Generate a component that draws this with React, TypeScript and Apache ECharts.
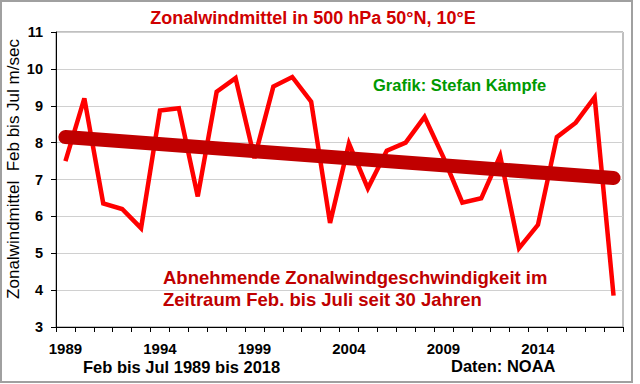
import React, { useEffect, useRef } from "react";
import * as echarts from "echarts";

const years = [
  "1989", "1990", "1991", "1992", "1993", "1994", "1995", "1996", "1997", "1998",
  "1999", "2000", "2001", "2002", "2003", "2004", "2005", "2006", "2007", "2008",
  "2009", "2010", "2011", "2012", "2013", "2014", "2015", "2016", "2017", "2018",
];
const zonalWind = [
  7.5, 9.2, 6.35, 6.2, 5.68, 8.87, 8.93, 6.54, 9.38, 9.75,
  7.58, 9.52, 9.78, 9.11, 5.82, 7.98, 6.76, 7.78, 8.0, 8.7,
  7.6, 6.37, 6.49, 7.64, 5.14, 5.77, 8.15, 8.54, 9.23, 3.85,
];
const trendStart = 8.15;
const trendEnd = 7.04;

const titleText = "Zonalwindmittel in 500 hPa 50°N, 10°E";
const yAxisName = "Zonalwindmittel  Feb bis Jul m/sec";
const creditText = "Grafik: Stefan Kämpfe";
const noteLines = [
  "Abnehmende Zonalwindgeschwindigkeit im",
  "Zeitraum Feb. bis Juli seit 30 Jahren",
];
const xCaption = "Feb bis Jul 1989 bis 2018";
const sourceText = "Daten: NOAA";

const FONT = "'Liberation Sans', Arial, sans-serif";

export default function App() {
  const ref = useRef<HTMLDivElement>(null);
  useEffect(() => {
    if (!ref.current) return;
    const chart = echarts.init(ref.current, null, { renderer: "svg" });
    chart.setOption({
      animation: false,
      backgroundColor: "#ffffff",
      textStyle: { fontFamily: FONT },
      grid: {
        left: 56,
        right: 17,
        top: 32,
        bottom: 57,
        show: true,
        borderColor: "#808080",
        borderWidth: 1,
      },
      xAxis: {
        type: "category",
        data: years,
        boundaryGap: true,
        axisLine: { lineStyle: { color: "#000", width: 1 } },
        axisTick: { show: true, interval: 0, length: 5, lineStyle: { color: "#000" } },
        axisLabel: {
          interval: 4,
          color: "#000",
          fontWeight: "bold",
          fontSize: 15,
          fontFamily: FONT,
          margin: 14,
        },
        splitLine: { show: false },
      },
      yAxis: {
        type: "value",
        min: 3,
        max: 11,
        interval: 1,
        axisLine: { show: true, lineStyle: { color: "#000", width: 1 } },
        axisTick: { show: true, length: 5, lineStyle: { color: "#000" } },
        axisLabel: { color: "#000", fontWeight: "bold", fontSize: 14.5, fontFamily: FONT, margin: 13 },
        splitLine: { show: true, lineStyle: { color: "#d0d0d0", width: 1 } },
      },
      series: [
        {
          type: "line",
          data: zonalWind,
          symbol: "none",
          lineStyle: { color: "#ff0000", width: 4.5, join: "miter" },
          z: 2,
        },
        {
          type: "line",
          data: [
            [years[0], trendStart],
            [years[years.length - 1], trendEnd],
          ],
          symbol: "none",
          lineStyle: { color: "#c00000", width: 14, cap: "round" },
          z: 3,
        },
      ],
      graphic: [
        {
          type: "rect",
          shape: { x: 1, y: 1, width: 631, height: 381 },
          style: { fill: "none", stroke: "#a0a0a0", lineWidth: 2 },
          silent: true,
        },
        {
          type: "text",
          x: 313,
          y: 18,
          style: {
            text: titleText,
            fill: "#d00000",
            font: `bold 18px ${FONT}`,
            textAlign: "center",
            textVerticalAlign: "middle",
          },
        },
        {
          type: "text",
          x: 13,
          y: 169,
          rotation: Math.PI / 2,
          style: {
            text: yAxisName,
            fill: "#000",
            font: `17px ${FONT}`,
            textAlign: "center",
            textVerticalAlign: "middle",
          },
        },
        {
          type: "text",
          x: 373,
          y: 85,
          style: {
            text: creditText,
            fill: "#009900",
            font: `bold 16.5px ${FONT}`,
            textAlign: "left",
            textVerticalAlign: "middle",
          },
        },
        {
          type: "text",
          x: 163,
          y: 277,
          style: {
            text: noteLines[0],
            fill: "#c00000",
            font: `bold 18.5px ${FONT}`,
            textAlign: "left",
            textVerticalAlign: "middle",
          },
        },
        {
          type: "text",
          x: 163,
          y: 299,
          style: {
            text: noteLines[1],
            fill: "#c00000",
            font: `bold 18.5px ${FONT}`,
            textAlign: "left",
            textVerticalAlign: "middle",
          },
        },
        {
          type: "text",
          x: 83,
          y: 367,
          style: {
            text: xCaption,
            fill: "#000",
            font: `bold 16.5px ${FONT}`,
            textAlign: "left",
            textVerticalAlign: "middle",
          },
        },
        {
          type: "text",
          x: 451,
          y: 366,
          style: {
            text: sourceText,
            fill: "#000",
            font: `bold 16.5px ${FONT}`,
            textAlign: "left",
            textVerticalAlign: "middle",
          },
        },
      ],
    });
    return () => chart.dispose();
  }, []);
  return (
    <div
      ref={ref}
      style={{ position: "fixed", left: 0, top: 0, width: 640, height: 384 }}
    />
  );
}
